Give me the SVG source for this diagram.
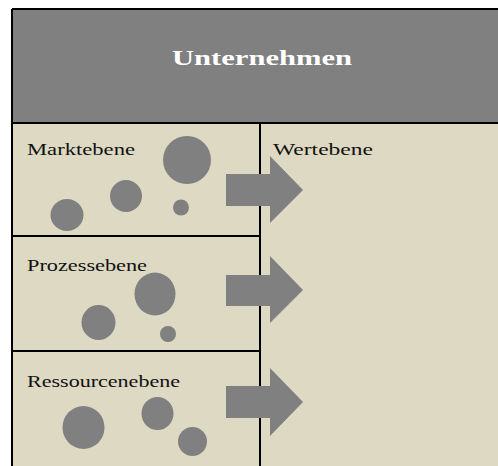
<svg xmlns="http://www.w3.org/2000/svg" width="498" height="466" viewBox="0 0 498 466">
<style>
.t{font-family:"Liberation Serif","Times New Roman",serif;font-size:17px;fill:#111}
.h{font-family:"Liberation Serif","Times New Roman",serif;font-size:20px;font-weight:bold;fill:#fff}
.c{fill:#808080}
.ln{stroke:#000;stroke-width:2;fill:none}
</style>
<rect x="0" y="0" width="498" height="466" fill="#fff"/>
<g id="frame">
<rect x="12" y="9" width="500" height="470" fill="#DDD9C3"/>
<rect x="12" y="9" width="500" height="114" fill="#808080"/>
<path class="ln" d="M12,9 H498 M12,9 V466 M12,123 H498 M260,123 V466 M12,236 H260 M12,351 H260"/>
</g>
<g id="header"><text class="h" x="172" y="65" textLength="180" lengthAdjust="spacingAndGlyphs">Unternehmen</text></g>
<g id="markt">
<text class="t" x="27" y="155" textLength="108" lengthAdjust="spacingAndGlyphs">Marktebene</text>
<circle class="c" cx="187" cy="160" r="24"/>
<circle class="c" cx="126" cy="196" r="16"/>
<ellipse class="c" cx="67" cy="215" rx="16.5" ry="16"/>
<circle class="c" cx="181" cy="207.5" r="8"/>
</g>
<g id="prozess">
<text class="t" x="27" y="271" textLength="120" lengthAdjust="spacingAndGlyphs">Prozessebene</text>
<ellipse class="c" cx="155" cy="294" rx="20.5" ry="21.5"/>
<ellipse class="c" cx="98.5" cy="322.5" rx="17" ry="17.5"/>
<circle class="c" cx="168" cy="334" r="8"/>
</g>
<g id="ressourcen">
<text class="t" x="27" y="387" textLength="153" lengthAdjust="spacingAndGlyphs">Ressourcenebene</text>
<ellipse class="c" cx="83.5" cy="427.5" rx="21" ry="21.5"/>
<ellipse class="c" cx="157.5" cy="413.5" rx="16" ry="16.5"/>
<circle class="c" cx="192.5" cy="441.5" r="14.5"/>
</g>
<g id="wert">
<text class="t" x="273" y="155" textLength="100" lengthAdjust="spacingAndGlyphs">Wertebene</text>
</g>
<g id="connectors">
<polygon class="c" points="226,174 270,174 270,156 303,190 270,223 270,206 226,206"/>
<polygon class="c" points="226,275 270,275 270,256 303,290 270,323 270,306 226,306"/>
<polygon class="c" points="226,386 270,386 270,368 303,402 270,436 270,418 226,418"/>
</g>
</svg>
